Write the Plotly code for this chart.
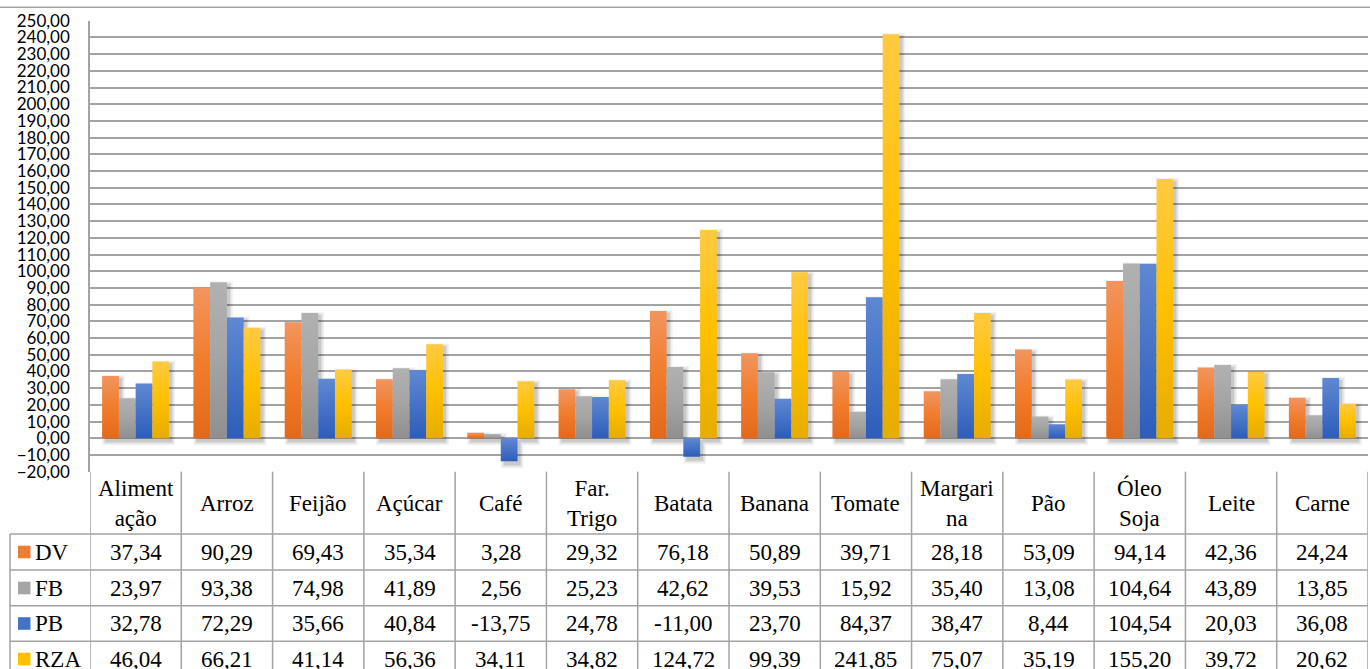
import plotly.graph_objects as go

# Produtos (cabeçalho da tabela) e variações por série
categorias = ["Aliment<br>ação", "Arroz", "Feijão", "Açúcar", "Café", "Far.<br>Trigo",
              "Batata", "Banana", "Tomate", "Margari<br>na", "Pão", "Óleo<br>Soja",
              "Leite", "Carne"]
series = ["DV", "FB", "PB", "RZA"]
dv = [37.34, 90.29, 69.43, 35.34, 3.28, 29.32, 76.18, 50.89, 39.71, 28.18, 53.09, 94.14, 42.36, 24.24]
fb = [23.97, 93.38, 74.98, 41.89, 2.56, 25.23, 42.62, 39.53, 15.92, 35.40, 13.08, 104.64, 43.89, 13.85]
pb = [32.78, 72.29, 35.66, 40.84, -13.75, 24.78, -11.00, 23.70, 84.37, 38.47, 8.44, 104.54, 20.03, 36.08]
rza = [46.04, 66.21, 41.14, 56.36, 34.11, 34.82, 124.72, 99.39, 241.85, 75.07, 35.19, 155.20, 39.72, 20.62]
valores = [dv, fb, pb, rza]
cores = ["#ED7D31", "#A5A5A5", "#4472C4", "#FFC000"]
# degradê vertical de cada série: base, meio, topo
degrades = [
    ["#E3691A", "#F07C2C", "#F2955E"],
    ["#8F8F8F", "#A4A4A4", "#B1B1B1"],
    ["#2D5DBA", "#4673C6", "#5F88D2"],
    ["#E6AC00", "#FFC000", "#FFCA42"],
]

W, H = 1370, 669
X0_PX, X1_PX = 90, 1368          # área de plotagem (horizontal)
Y_TOP_PX, Y_BOT_PX = 20.7, 471.7  # 250 e -20 no eixo
Y_MIN, Y_MAX = -20, 250
N = len(categorias)

def px(x):
    return x / W

def py(y):
    return 1 - y / H

# conversões de pixel para unidades de dados
UX = N / (X1_PX - X0_PX)
UY = (Y_MAX - Y_MIN) / (Y_BOT_PX - Y_TOP_PX)

GRID = "#A3A3A3"
SERIF = "Liberation Serif, Times New Roman, DejaVu Serif, serif"
TAM = 23

BARGAP = 0.266
bw = (1 - BARGAP) / len(series)

fig = go.Figure()

# sombras suaves sob as colunas
for camada, (esp, alfa) in enumerate([(3.0, 0.05), (1.5, 0.07), (0.0, 0.10)]):
    sx, sy = [], []
    for k, vals in enumerate(valores):
        for i, v in enumerate(vals):
            a = i - 0.5 + BARGAP / 2 + k * bw + 3 * UX - esp * UX
            b = a + bw + 2 * esp * UX
            lo = min(0, v) - 4 * UY - esp * UY
            hi = max(0, v) - 2 * UY + esp * UY
            sx += [a, b, b, a, a, None]
            sy += [lo, lo, hi, hi, lo, None]
    fig.add_trace(go.Scatter(x=sx, y=sy, mode="lines", fill="toself",
                             fillcolor=f"rgba(0,0,0,{alfa})", line=dict(width=0),
                             hoverinfo="skip", showlegend=False))

# colunas com degradê
for k, (nome, vals, grad) in enumerate(zip(series, valores, degrades)):
    for i, v in enumerate(vals):
        a = i - 0.5 + BARGAP / 2 + k * bw
        b = a + bw
        escala = [[0, grad[0]], [0.5, grad[1]], [1, grad[2]]]
        fig.add_trace(go.Scatter(
            x=[a, b, b, a, a], y=[0, 0, v, v, 0], mode="lines", fill="toself",
            fillgradient=dict(type="vertical", colorscale=escala),
            fillcolor=cores[k], line=dict(width=0), name=nome,
            hovertemplate=f"{nome}: {v:.2f}<extra></extra>", showlegend=False))

shapes = []
annotations = []

# linha superior da área do gráfico
shapes.append(dict(type="line", xref="paper", yref="paper", x0=0, x1=1, y0=py(7.3), y1=py(7.3),
                   line=dict(color=GRID, width=1.5)))

# grade da tabela de dados
row_edges = [534, 570, 605.7, 641.3]
for i in range(N + 1):
    shapes.append(dict(type="line", xref="x", yref="paper", x0=i - 0.5, x1=i - 0.5,
                       y0=py(Y_BOT_PX), y1=0, line=dict(color=GRID, width=1.5)))
for ye in row_edges:
    shapes.append(dict(type="line", xref="paper", yref="paper", x0=px(10), x1=px(X1_PX),
                       y0=py(ye), y1=py(ye), line=dict(color=GRID, width=1.5)))
shapes.append(dict(type="line", xref="paper", yref="paper", x0=px(10), x1=px(10),
                   y0=py(534), y1=0, line=dict(color=GRID, width=1.5)))

# cabeçalho
for i, c in enumerate(categorias):
    annotations.append(dict(x=i, y=py(503), xref="x", yref="paper", text=c, showarrow=False,
                            font=dict(family=SERIF, size=TAM, color="black"),
                            xanchor="center", yanchor="middle"))

# linhas de valores com chave da legenda
row_centers = [552, 588, 623.5, 659]
for r, (nome, vals, cor) in enumerate(zip(series, valores, cores)):
    yc = row_centers[r]
    shapes.append(dict(type="rect", xref="paper", yref="paper", x0=px(18), x1=px(30.5),
                       y0=py(yc + 6.3), y1=py(yc - 6.3), fillcolor=cor, line=dict(width=0)))
    annotations.append(dict(x=px(33), y=py(yc), xref="paper", yref="paper", text=nome,
                            showarrow=False, xanchor="left", yanchor="middle",
                            font=dict(family=SERIF, size=TAM, color="black")))
    for i, v in enumerate(vals):
        annotations.append(dict(x=i, y=py(yc), xref="x", yref="paper",
                                text=f"{v:.2f}".replace(".", ","), showarrow=False,
                                xanchor="center", yanchor="middle",
                                font=dict(family=SERIF, size=TAM, color="black")))

fig.update_layout(
    width=W, height=H,
    margin=dict(l=0, r=0, t=0, b=0, autoexpand=False),
    paper_bgcolor="white", plot_bgcolor="white",
    separators=",.",
    shapes=shapes, annotations=annotations,
    xaxis=dict(domain=[px(X0_PX), px(X1_PX)], range=[-0.5, N - 0.5], automargin=False,
               showticklabels=False, showgrid=False, zeroline=False, showline=False,
               fixedrange=True),
    yaxis=dict(domain=[py(Y_BOT_PX), py(Y_TOP_PX)], range=[Y_MIN, Y_MAX], automargin=False,
               dtick=10, tick0=0, tickformat=".2f",
               showgrid=True, gridcolor=GRID, gridwidth=1.5,
               zeroline=True, zerolinecolor=GRID, zerolinewidth=1.5,
               showline=True, linecolor=GRID, linewidth=1.5,
               ticks="", ticklabelstandoff=15, layer="below traces",
               tickfont=dict(family="Lato", size=17, color="black"), fixedrange=True),
)

fig.write_html("out.html")
